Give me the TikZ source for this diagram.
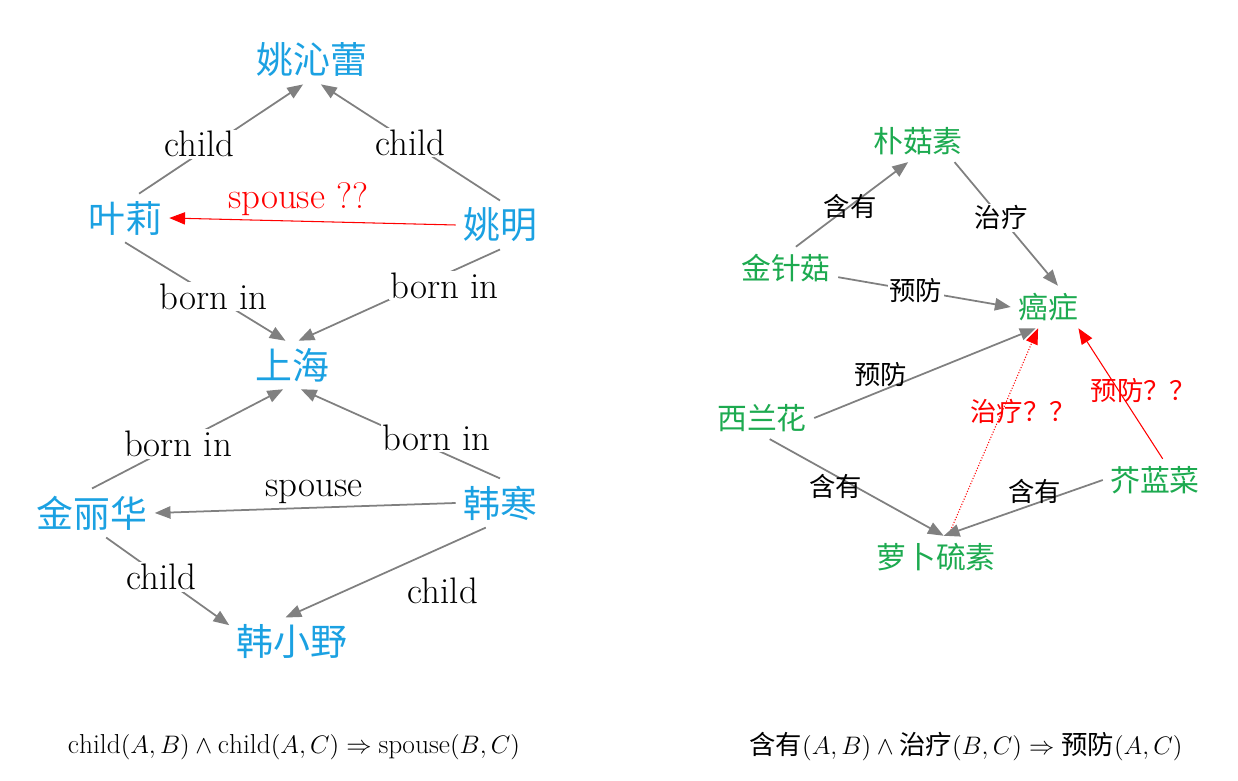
\documentclass[tikz,border=0pt]{standalone}
\usepackage{fontspec}
\usepackage{amsmath}
\newfontfamily\cjk{Noto Sans CJK SC}
\usetikzlibrary{positioning,arrows.meta}

\definecolor{personblue}{RGB}{27,161,226}
\definecolor{itemgreen}{RGB}{29,170,80}
\definecolor{edgegray}{RGB}{128,128,128}

\tikzset{
  person/.style={text=personblue, font=\cjk\fontsize{21}{24}\selectfont, inner sep=4pt},
  item/.style={text=itemgreen, font=\cjk\fontsize{17}{20}\selectfont, inner sep=4pt},
  rel/.style={draw=edgegray, line width=1pt, -{Triangle[length=9pt,width=7pt]}},
  guess/.style={rel, draw=red, line width=0.6pt},
  lab/.style={fill=white, text=black, inner sep=1pt, font=\fontsize{21}{24}\selectfont},
  cnlab/.style={fill=white, text=black, inner sep=1pt, font=\cjk\fontsize{15}{17}\selectfont},
}

\begin{document}
\begin{tikzpicture}[on grid]
\useasboundingbox (0,0) rectangle (24.76,-15.62);
% family graph
\node [person] (yql) at (6.24,-1.2) {姚沁蕾};
\node [person, below left=3.16cm and 3.74cm of yql] (yl) {叶莉};
\node [person, below right=3.3cm and 3.76cm of yql] (ym) {姚明};
\node [person, below left=6.1cm and 0.4cm of yql] (sh) {上海};
\node [person, below left=2.96cm and 4cm of sh] (jlh) {金丽华};
\node [person, below right=2.76cm and 4.16cm of sh] (hh) {韩寒};
\node [person, below=5.54cm of sh] (hxy) {韩小野};

\draw [rel] (yl.60) -- node [lab, pos=0.42, xshift=-5pt, yshift=2pt] {child} (yql.250);
\draw [rel] (ym.north) -- node [lab, pos=0.5] {child} (yql.290);
\draw [guess] (ym.west) -- node [lab, pos=0.55, above=2pt, fill=none, text=red] {spouse ??} (yl.east);
\draw [rel] (yl.south) -- node [lab, pos=0.55] {born in} (sh.105);
\draw [rel] (ym.south) -- node [lab, pos=0.3, xshift=3pt, yshift=-5pt] {born in} (sh.75);
\draw [rel] (jlh.north) -- node [lab, pos=0.45] {born in} (sh.250);
\draw [rel] (hh.north) -- node [lab, pos=0.3, xshift=-2pt, yshift=8pt] {born in} (sh.290);
\draw [rel] (hh.west) -- node [lab, pos=0.47, above=1pt, fill=none] {spouse} (jlh.east);
\draw [rel] (jlh.300) -- node [lab, pos=0.45] {child} (hxy.165);
\draw [rel] (hh.240) -- node [lab, pos=0.25, below=0.5cm, xshift=4pt, fill=none] {child} (hxy.105);

% food graph
\node [item] (pgs) at (18.36,-2.82) {朴菇素};
\node [item, below left=2.54cm and 2.64cm of pgs] (jzg) {金针菇};
\node [item, below right=3.32cm and 2.6cm of pgs] (az) {癌症};
\node [item, below left=2.22cm and 5.72cm of az] (xlh) {西兰花};
\node [item, below right=3.46cm and 2.14cm of az] (jlc) {芥蓝菜};
\node [item, below left=5cm and 2.24cm of az] (lbls) {萝卜硫素};

\draw [rel] (jzg.65) -- node [cnlab, pos=0.42, xshift=4pt, yshift=3pt, fill=none] {含有} (pgs.245);
\draw [rel] (pgs.330) -- node [cnlab, pos=0.45] {治疗} (az.65);
\draw [rel] (jzg.350) -- node [cnlab, pos=0.45] {预防} (az.west);
\draw [rel] (xlh.east) -- node [cnlab, pos=0.3, above=1pt, fill=none] {预防} (az.240);
\draw [guess, densely dotted] (lbls.60) -- node [cnlab, pos=0.6, xshift=12pt, fill=none, text=red] {治疗？？} (az.245);
\draw [guess] (jlc.70) -- node [cnlab, pos=0.5, xshift=13pt, yshift=2pt, fill=none, text=red] {预防？？} (az.325);
\draw [rel] (xlh.290) -- node [cnlab, pos=0.38, yshift=-6pt, fill=none] {含有} (lbls.70);
\draw [rel] (jlc.west) -- node [cnlab, pos=0.43, yshift=7pt, fill=none] {含有} (lbls.70);

% rules
\node [font=\fontsize{15.6}{18}\selectfont] (rule1) at (5.88,-14.94)
  {$\mathrm{child}(A,B)\wedge\mathrm{child}(A,C)\Rightarrow\mathrm{spouse}(B,C)$};
\node [font=\fontsize{15}{18}\selectfont] (rule2) at (19.32,-14.94)
  {$\text{\cjk 含有}(A,B)\wedge\text{\cjk 治疗}(B,C)\Rightarrow\text{\cjk 预防}(A,C)$};
\end{tikzpicture}
\end{document}
